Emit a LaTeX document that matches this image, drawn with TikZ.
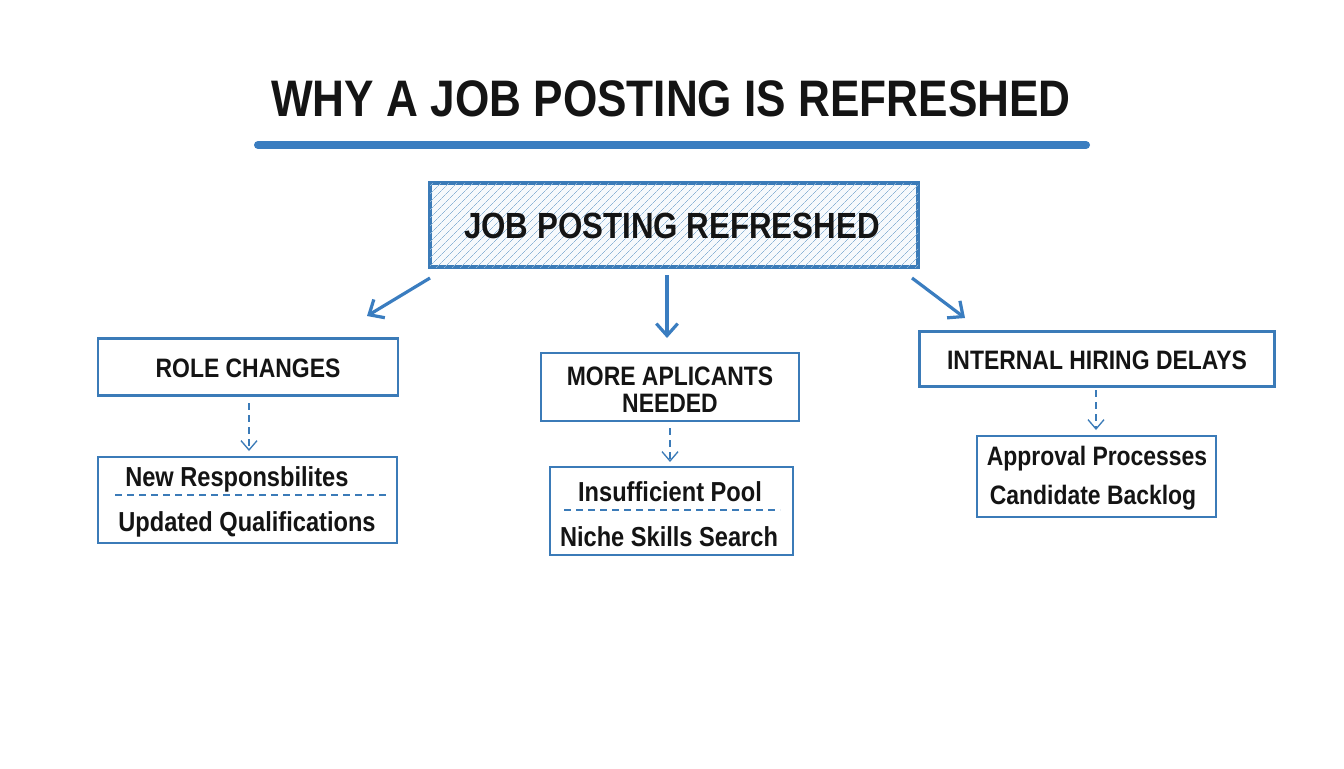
\documentclass[tikz,border=0pt]{standalone}
\usepackage{fontspec}
\setmainfont{Liberation Sans}[FakeStretch=0.86]
\usetikzlibrary{arrows.meta,patterns.meta}
\definecolor{bordblue}{HTML}{3B7BB8}
\definecolor{arrblue}{HTML}{3A7DC0}
\definecolor{hatchblue}{HTML}{8DB4D6}
\definecolor{txt}{HTML}{141414}
\tikzset{
  box/.style={draw=bordblue, line width=2pt, fill=white, inner sep=0pt},
  lbl/.style={text=txt, font=\fontsize{20}{20.5}\selectfont\bfseries, inner sep=0pt, align=center},
  sublbl/.style={text=txt, font=\fontsize{20.6}{24}\selectfont\bfseries, inner sep=0pt, align=center},
  mainarrow/.style={draw=arrblue, line width=2.4pt, -{Straight Barb[length=9pt,width=16pt,line width=2.4pt]}},
  dasharrow/.style={draw=bordblue, line width=1pt, dash pattern=on 5pt off 4pt, -{Straight Barb[length=7pt,width=12pt,line width=1pt]}},
  sep/.style={draw=bordblue, line width=1pt, dash pattern=on 5pt off 4pt},
}
\begin{document}
\begin{tikzpicture}[x=0.75pt,y=-0.75pt]
\path[use as bounding box, fill=white] (0,0) rectangle (1344,768);

% title
\node[text=txt, font=\fontsize{38.5}{44}\selectfont\bfseries, inner sep=0pt] (title) at (671,99) {WHY A JOB POSTING IS REFRESHED};
\coordinate (ulL) at (258,145);
\coordinate (ulR) at (1086,145);
\draw[arrblue, line width=6pt, line cap=round] (ulL) -- (ulR);

% main box
\node[draw=bordblue, line width=2.4pt, minimum width=488*0.75pt, minimum height=84*0.75pt, inner sep=0pt,
      fill=hatchblue!8, postaction={pattern={Lines[angle=45,distance=4pt,line width=0.45pt]}, pattern color=hatchblue}] (main) at (674,225) {};
\node[text=txt, font=\fontsize{27.3}{30}\selectfont\bfseries, inner sep=0pt] (maintxt) at (672,226) {JOB POSTING REFRESHED};

% level 1 boxes
\node[box, minimum width=300*0.75pt, minimum height=57*0.75pt] (role) at (248,367) {};
\node[lbl] (roletxt) at (248,368) {ROLE CHANGES};

\node[box, minimum width=258*0.75pt, minimum height=68*0.75pt] (more) at (670,387) {};
\node[lbl] (moretxt) at (670,390) {MORE APLICANTS\\NEEDED};

\node[box, minimum width=355*0.75pt, minimum height=55*0.75pt] (internal) at (1097,359) {};
\node[lbl] (internaltxt) at (1097,360) {INTERNAL HIRING DELAYS};

% main arrows
\coordinate (a1s) at (430,278);
\coordinate (a1e) at (367,316);
\coordinate (a2s) at (667,275);
\coordinate (a2e) at (667,338);
\coordinate (a3s) at (912,278);
\coordinate (a3e) at (965,318);
\draw[mainarrow] (a1s) -- (a1e);
\draw[mainarrow] (a2s) -- (a2e);
\draw[mainarrow] (a3s) -- (a3e);

% level 2 boxes
\node[box, minimum width=299*0.75pt, minimum height=86*0.75pt] (sub1) at (247.5,500) {};
\node[sublbl, anchor=west] (s1a) at (125,479) {New Responsbilites};
\node[sublbl] (s1b) at (247,524) {Updated Qualifications};
\coordinate (sep1L) at (115,495);
\coordinate (sep1R) at (386,495);
\draw[sep] (sep1L) -- (sep1R);

\node[box, minimum width=243*0.75pt, minimum height=88*0.75pt] (sub2) at (671.5,511) {};
\node[sublbl] (s2a) at (670,492) {Insufficient Pool};
\node[sublbl] (s2b) at (669,537) {Niche Skills Search};
\coordinate (sep2L) at (564,510);
\coordinate (sep2R) at (780,510);
\draw[sep] (sep2L) -- (sep2R);

\node[box, minimum width=239*0.75pt, minimum height=81*0.75pt] (sub3) at (1096.5,476.5) {};
\node[lbl] (s3a) at (1097,459) {Approval Processes};
\node[lbl] (s3b) at (1093,498) {Candidate Backlog};

% dashed arrows
\coordinate (d1s) at (249,403);
\coordinate (d1e) at (249,451);
\coordinate (d2s) at (670,428);
\coordinate (d2e) at (670,462);
\coordinate (d3s) at (1096,390);
\coordinate (d3e) at (1096,430);
\draw[dasharrow] (d1s) -- (d1e);
\draw[dasharrow] (d2s) -- (d2e);
\draw[dasharrow] (d3s) -- (d3e);
\end{tikzpicture}
\end{document}
